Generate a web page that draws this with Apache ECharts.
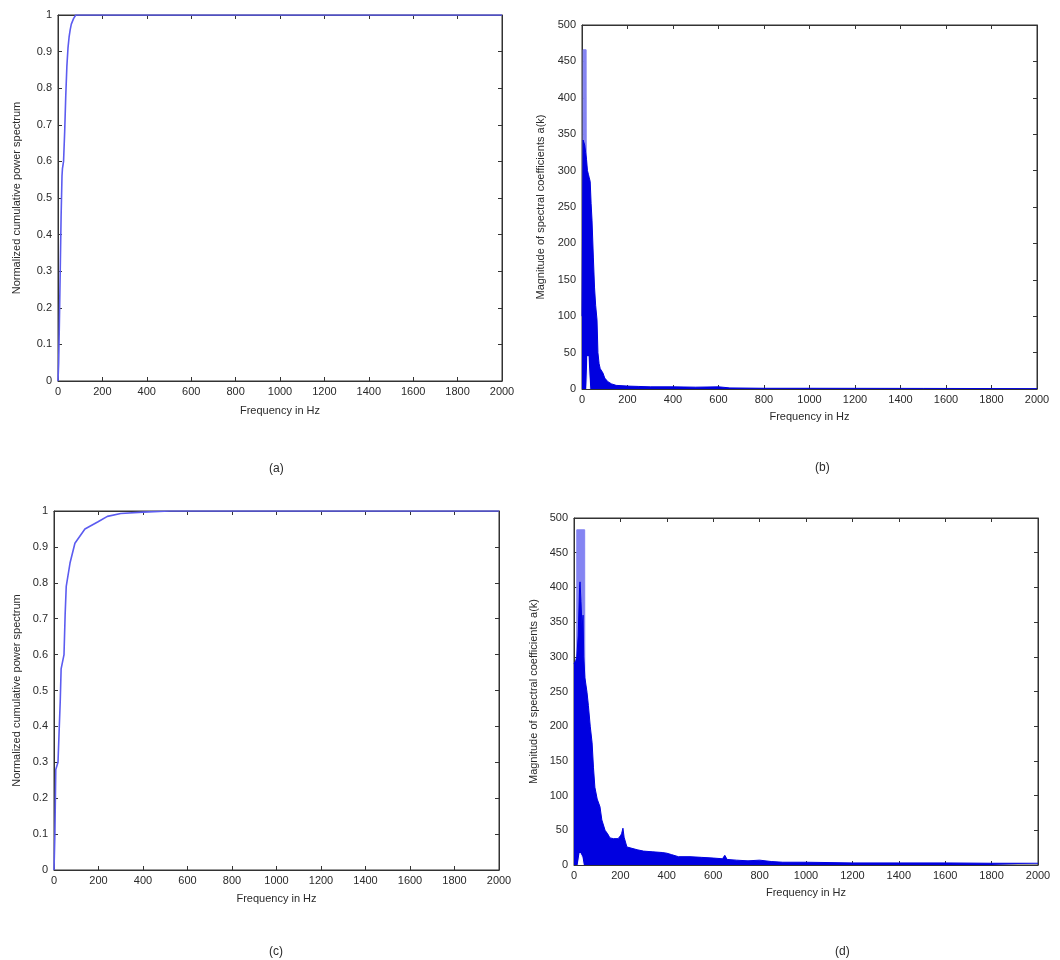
<!DOCTYPE html>
<html>
<head>
<meta charset="utf-8">
<script src="https://cdn.jsdelivr.net/npm/echarts@6/dist/echarts.min.js"></script>
<style>
html,body{margin:0;padding:0;background:#fff;}
#chart{width:1060px;height:960px;}
</style>
</head>
<body>
<div id="chart"></div>
<script>
// ---------- DATA ----------
var freqTicks = [0, 200, 400, 600, 800, 1000, 1200, 1400, 1600, 1800, 2000];

// (a) normalized cumulative power spectrum
var aFreq = [0, 3, 6, 10, 14, 18, 20, 25, 30, 35, 40, 45, 50, 55, 60, 70, 80, 100, 2000];
var aVal  = [0, 0.05, 0.15, 0.3, 0.45, 0.56, 0.58, 0.6, 0.68, 0.78, 0.86, 0.91, 0.94, 0.96, 0.975, 0.99, 1, 1, 1];

// (b) magnitude of spectral coefficients (max envelope)
var bFreq = [0, 2, 4, 5, 8, 12, 16, 20, 24, 28, 32, 36, 40, 44, 50, 55, 60, 66, 70, 75, 80, 92, 100, 114, 130, 150, 200, 250, 300, 400, 500, 600, 650, 800, 1000, 1500, 2000];
var bMag  = [100, 100, 100, 342, 342, 335, 325, 315, 300, 295, 290, 285, 255, 232, 180, 140, 115, 95, 50, 35, 28, 22, 15, 10, 7, 5, 4, 3.5, 3, 3, 2.5, 3, 1.5, 1, 1, 0.8, 0.5];
var bPeakFreq = [4, 5, 18, 20];
var bPeakMag  = [0, 466, 466, 0];
var bNotchFreq = [21, 26, 29, 34];
var bNotchMag  = [0, 45, 45, 0];

// (c) normalized cumulative power spectrum
var cFreq = [0, 4, 8, 18, 28, 32, 45, 50, 55, 72, 94, 139, 198, 240, 300, 400, 520, 2000];
var cVal  = [0, 0.1, 0.28, 0.3, 0.47, 0.56, 0.6, 0.71, 0.79, 0.855, 0.91, 0.95, 0.97, 0.985, 0.993, 0.997, 1, 1];

// (d) magnitude of spectral coefficients (max envelope)
var dFreq = [0, 8, 12, 18, 24, 26, 30, 35, 39, 42, 47, 56, 62, 70, 78, 84, 90, 100, 112, 120, 134, 145, 155, 170, 177, 190, 200, 205, 211, 216, 228, 250, 272, 300, 340, 380, 400, 420, 450, 500, 550, 600, 640, 650, 660, 700, 750, 800, 850, 900, 1000, 1200, 1400, 1600, 1800, 2000];
var dMag  = [290, 295, 300, 330, 400, 408, 380, 340, 360, 300, 270, 249, 230, 200, 176, 140, 112, 95, 84, 65, 50, 45, 39, 38, 36, 38, 42, 45, 53, 40, 26, 24, 22, 20, 19, 18, 17, 15, 12, 12, 11, 10, 9, 14, 8, 7, 6, 7, 5, 4, 4, 3, 3, 3, 2.5, 2.5];
var dPeakFreq = [11, 12, 46, 47];
var dPeakMag  = [0, 483, 483, 0];
var dNotchFreq = [18, 26, 34, 40];
var dNotchMag  = [0, 17, 12, 0];

var yTicksCum = [0, 0.1, 0.2, 0.3, 0.4, 0.5, 0.6, 0.7, 0.8, 0.9, 1];
var yTicksMag = [0, 50, 100, 150, 200, 250, 300, 350, 400, 450, 500];

var yNameCum = 'Normalized cumulative power spectrum';
var yNameMag = 'Magnitude of spectral coefficients a(k)';
var xName = 'Frequency in Hz';
var captions = ['(a)', '(b)', '(c)', '(d)'];

// ---------- HELPERS ----------
function pairs(xs, ys) { return xs.map(function (x, i) { return [x, ys[i]]; }); }
function plain(v) { return String(Math.round(v * 100) / 100); }

var FONT = 'Liberation Sans, Arial, sans-serif';
var AX = '#333';
var TXT = '#2a2a2a';
var grids = [
  {left: 58, top: 15, width: 444, height: 366},
  {left: 582, top: 25, width: 455, height: 364},
  {left: 54, top: 511, width: 445, height: 359},
  {left: 574, top: 518, width: 464, height: 347}
];
var yNameGaps = [36, 36, 32, 35];
var xNameGaps = [24, 22, 23, 22];
var yTickSets = [yTicksCum, yTicksMag, yTicksCum, yTicksMag];
var yNames = [yNameCum, yNameMag, yNameCum, yNameMag];

var xAxes = [], yAxes = [];
grids.forEach(function (g, i) {
  var yt = yTickSets[i];
  var yInt = yt[1] - yt[0];
  var common = {
    gridIndex: i, type: 'value',
    axisLine: {show: true, onZero: false, lineStyle: {color: AX, width: 1}},
    axisTick: {show: true, inside: true, length: 4, lineStyle: {color: AX}},
    splitLine: {show: false}
  };
  xAxes.push(Object.assign({}, common, {
    position: 'bottom', min: freqTicks[0], max: freqTicks[freqTicks.length - 1],
    interval: freqTicks[1] - freqTicks[0],
    name: xName, nameLocation: 'middle', nameGap: xNameGaps[i],
    nameTextStyle: {fontFamily: FONT, fontSize: 11, color: TXT},
    axisLabel: {fontFamily: FONT, fontSize: 11, color: TXT, margin: 5, formatter: plain}
  }));
  xAxes.push(Object.assign({}, common, {
    position: 'top', min: freqTicks[0], max: freqTicks[freqTicks.length - 1],
    interval: freqTicks[1] - freqTicks[0], axisLabel: {show: false}
  }));
  yAxes.push(Object.assign({}, common, {
    position: 'left', min: yt[0], max: yt[yt.length - 1], interval: yInt,
    name: yNames[i], nameLocation: 'middle', nameGap: yNameGaps[i], nameRotate: 90,
    nameTextStyle: {fontFamily: FONT, fontSize: 11, color: TXT},
    axisLabel: {fontFamily: FONT, fontSize: 11, color: TXT, margin: 6, formatter: plain}
  }));
  yAxes.push(Object.assign({}, common, {
    position: 'right', min: yt[0], max: yt[yt.length - 1], interval: yInt,
    axisLabel: {show: false}
  }));
});

var CUM = '#5c5cf0';
var DARK = '#0000e0';
var LIGHT = '#8484f2';

function lineSeries(gi, data, color, width, z) {
  return {type: 'line', xAxisIndex: gi * 2, yAxisIndex: gi * 2, data: data,
    showSymbol: false, symbol: 'none', z: z || 3,
    lineStyle: {color: color, width: width}, animation: false};
}
function areaSeries(gi, data, color, z) {
  return {type: 'line', xAxisIndex: gi * 2, yAxisIndex: gi * 2, data: data,
    showSymbol: false, symbol: 'none', z: z || 3,
    lineStyle: {color: color, width: 1}, areaStyle: {color: color, opacity: 1},
    animation: false};
}

var series = [
  lineSeries(0, pairs(aFreq, aVal), CUM, 1.6, 4),
  areaSeries(1, pairs(bPeakFreq, bPeakMag), LIGHT, 2),
  areaSeries(1, pairs(bFreq, bMag), DARK, 3),
  areaSeries(1, pairs(bNotchFreq, bNotchMag), '#ffffff', 4),
  lineSeries(2, pairs(cFreq, cVal), CUM, 1.6, 4),
  areaSeries(3, pairs(dPeakFreq, dPeakMag), LIGHT, 2),
  areaSeries(3, pairs(dFreq, dMag), DARK, 3),
  areaSeries(3, pairs(dNotchFreq, dNotchMag), '#ffffff', 4)
];

var capPos = [[272, 458], [818, 457], [272, 941], [838, 941]];
var titles = captions.map(function (c, i) {
  return {text: c, left: capPos[i][0] - 8, top: capPos[i][1],
    textStyle: {fontFamily: FONT, fontSize: 12, fontWeight: 'normal', color: TXT}};
});

var chart = echarts.init(document.getElementById('chart'), null, {renderer: 'canvas'});
chart.setOption({
  backgroundColor: '#ffffff',
  animation: false,
  title: titles,
  grid: grids.map(function (g) {
    return Object.assign({show: true, borderColor: AX, borderWidth: 1, backgroundColor: '#fff', containLabel: false}, g);
  }),
  xAxis: xAxes,
  yAxis: yAxes,
  series: series
});
</script>
</body>
</html>
